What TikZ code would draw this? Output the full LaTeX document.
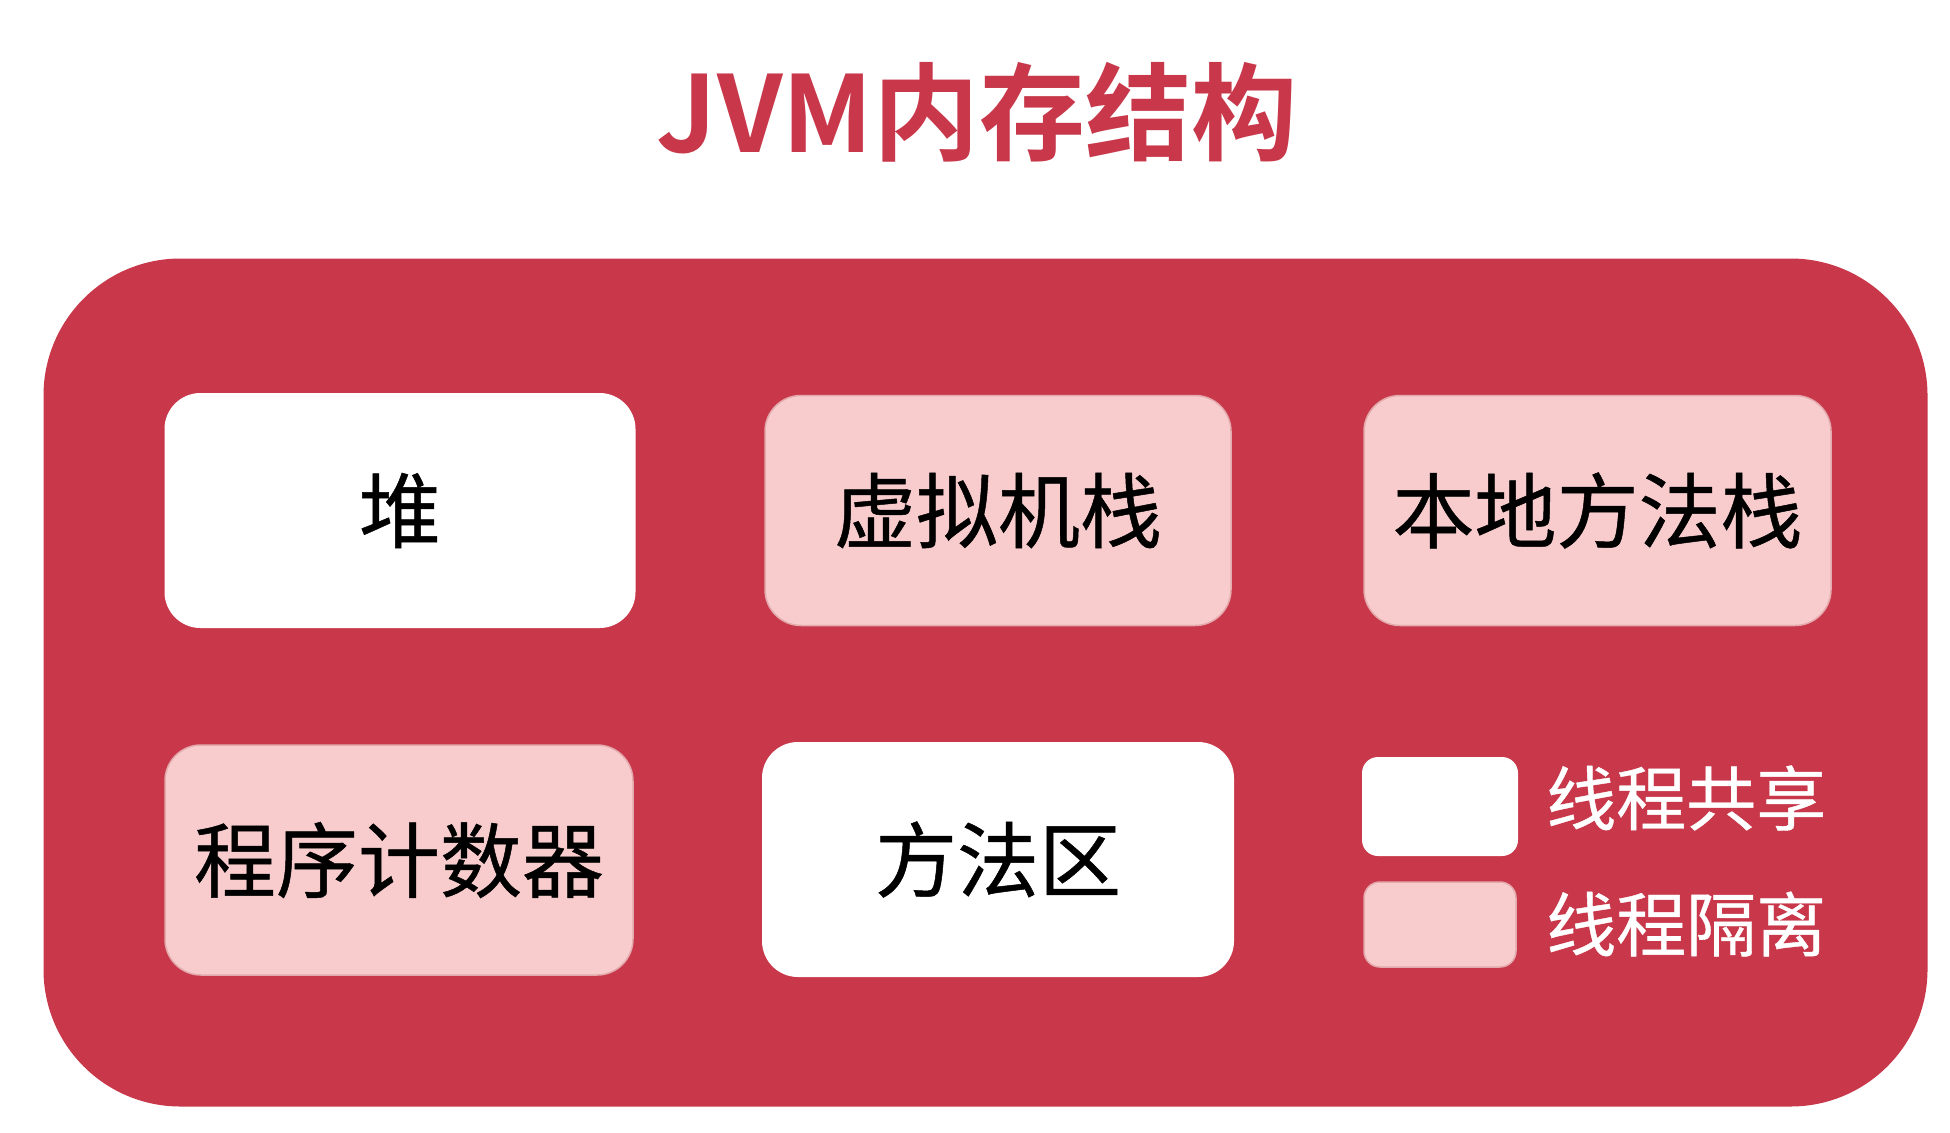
\documentclass[tikz,border=0pt]{standalone}
\usepackage{fontspec}
\newfontfamily\cjk[FakeBold=0.6]{Noto Sans CJK SC}
\newfontfamily\cjkb{Noto Sans CJK SC Bold}
\definecolor{jvmred}{HTML}{C8384A}
\definecolor{iso}{HTML}{F8CCCD}
\definecolor{isoedge}{HTML}{E3A9AC}
\begin{document}
\begin{tikzpicture}[x=1pt,y=-1pt,
  shared/.style={fill=white, rounded corners=36pt, inner sep=0pt, font=\cjk\fontsize{82}{82}\selectfont, text=black},
  isolated/.style={fill=iso, draw=isoedge, line width=1.5pt, rounded corners=36pt, inner sep=0pt, font=\cjk\fontsize{82}{82}\selectfont, text=black},
  legtext/.style={anchor=west, inner sep=0pt, text=white, font=\cjk\fontsize{70}{70}\selectfont}]
\useasboundingbox (0,0) rectangle (1950,1132);
\fill[white] (0,0) rectangle (1950,1132);
\node[text=jvmred, font=\cjkb\fontsize{106}{106}\selectfont, inner sep=0pt] (title) at (977,112) {JVM内存结构};
\node[fill=jvmred, rounded corners=137pt, minimum width=1884pt, minimum height=848pt, inner sep=0pt] (mem) at (985.5,682.5) {};
\node[shared, minimum width=471pt, minimum height=235pt] (heap) at (400,510.5) {堆};
\node[isolated, minimum width=466pt, minimum height=230pt] (vms) at (998,510.5) {虚拟机栈};
\node[isolated, minimum width=467pt, minimum height=230pt] (nms) at (1597.5,510.5) {本地方法栈};
\node[isolated, minimum width=468pt, minimum height=230pt] (pc) at (399,860) {程序计数器};
\node[shared, minimum width=472pt, minimum height=235pt] (ma) at (998,859.5) {方法区};
\node[shared, rounded corners=16pt, minimum width=156pt, minimum height=99pt] (legs) at (1440,806.5) {};
\node[isolated, rounded corners=16pt, minimum width=152pt, minimum height=85pt] (legi) at (1440,924.5) {};
\node[legtext] (lst) at (1546,798) {线程共享};
\node[legtext] (lit) at (1546,924) {线程隔离};
\end{tikzpicture}
\end{document}
